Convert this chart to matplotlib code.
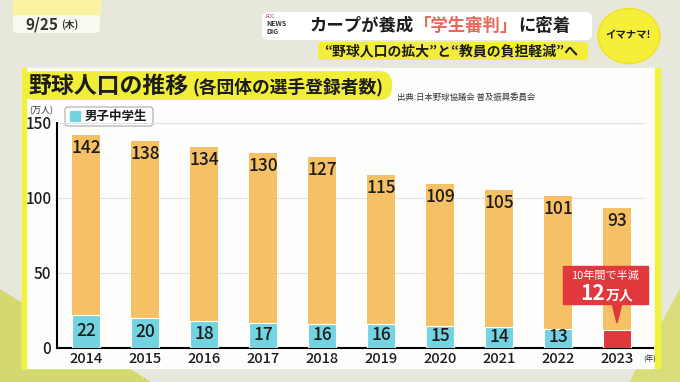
import numpy as np
import matplotlib
matplotlib.use('Agg')
import matplotlib.pyplot as plt
from matplotlib.patches import FancyBboxPatch, Rectangle, Polygon, Ellipse

plt.rcParams['font.family'] = ['Noto Sans CJK JP', 'DejaVu Sans']

# data (万人)
years = ['2014', '2015', '2016', '2017', '2018', '2019', '2020', '2021', '2022', '2023']
totals = [142, 138, 134, 130, 127, 115, 109, 105, 101, 93]
junior_high = [22, 20, 18, 17, 16, 16, 15, 14, 13, 12]
yticks = [0, 50, 100, 150]

ORANGE = '#F5C164'
CYAN = '#74D3E1'
RED = '#E0383C'
TXT = '#1c1c1c'

W, H = 680, 382
fig = plt.figure(figsize=(W / 100, H / 100), dpi=100)

# background layer in pixel coordinates
bg = fig.add_axes([0, 0, 1, 1], zorder=0)
bg.set_xlim(0, W)
bg.set_ylim(H, 0)
bg.axis('off')
bg.add_patch(Rectangle((0, 0), W, H, color='#E8E7DC'))
bg.add_patch(Polygon([(0, 290), (150, 382), (0, 382)], color='#D3D96E'))
bg.add_patch(Polygon([(630, 382), (680, 290), (680, 382)], color='#D8DD7A'))

# date box
bg.add_patch(FancyBboxPatch((13, -10), 87, 43, boxstyle='round,pad=0,rounding_size=5',
                            fc='#FBFAF0', ec='none'))
bg.add_patch(Rectangle((13, -10), 87, 24, color='#FBF3A0'))
bg.text(25, 24, '9/25', fontsize=11, fontweight='bold', color='#333333', va='center')
bg.text(61, 25, '(木)', fontsize=7, fontweight='bold', color='#333333', va='center')

# header banners
bg.add_patch(FancyBboxPatch((262, 12), 330, 28, boxstyle='round,pad=0,rounding_size=6',
                            fc='white', ec='none'))
bg.text(266, 16, 'RCC', fontsize=3.5, color='#b0306a', va='center')
bg.text(266, 23, 'NEWS', fontsize=5, fontweight='bold', color='#333333', va='center')
bg.text(266, 31, 'DIG', fontsize=5, fontweight='bold', color='#333333', va='center')
renderer = fig.canvas.get_renderer()
xpos = 310
for part, col in [('カープが養成', TXT), ('「学生審判」', '#E8675A'), ('に密着', TXT)]:
    t = bg.text(xpos, 26, part, fontsize=12.5, fontweight='bold', color=col, va='center')
    ext = t.get_window_extent(renderer)
    xpos += ext.width
bg.add_patch(FancyBboxPatch((318, 42), 270, 18, boxstyle='round,pad=0,rounding_size=4',
                            fc='#F3EE3C', ec='none'))
bg.text(578, 51, '“野球人口の拡大”と“教員の負担軽減”へ', fontsize=10, fontweight='bold',
        color=TXT, va='center', ha='right')
bg.add_patch(Ellipse((629, 36), 62, 55, fc='#F6EF3A', ec='#F2E020', lw=1))
bg.text(628, 35, 'イマナマ!', fontsize=7.5, fontweight='bold', color=TXT, ha='center', va='center')

# white panel
bg.add_patch(Rectangle((22, 68), 636, 300, color='#FDFDFB'))
bg.add_patch(Rectangle((22, 68), 4, 300, color='#F2F23C'))
bg.add_patch(Rectangle((655, 68), 5, 300, color='#F2F23C'))

# title
bg.add_patch(FancyBboxPatch((22, 71), 370, 29, boxstyle='round,pad=0,rounding_size=13',
                            fc='#F1EE3A', ec='none'))
bg.text(28, 86, '野球人口の推移', fontsize=16.5, fontweight='bold', color=TXT, va='center')
bg.text(192, 87, '(各団体の選手登録者数)', fontsize=12.8, fontweight='bold', color=TXT, va='center')
bg.text(397, 97, '出典:日本野球協議会 普及振興委員会', fontsize=6, color='#333333', va='center')
bg.text(41, 111, '(万人)', fontsize=6.5, color='#333333', ha='center', va='center')

# legend
bg.add_patch(FancyBboxPatch((65, 107), 88, 19, boxstyle='round,pad=0,rounding_size=3',
                            fc='white', ec='#aaaaaa', lw=0.8))
bg.add_patch(Rectangle((70, 111), 10, 10, color=CYAN))
bg.text(85, 116, '男子中学生', fontsize=9, fontweight='bold', color=TXT, va='center')

# main chart
ax = fig.add_axes([57 / W, 1 - 348 / H, (645 - 57) / W, (348 - 123) / H], zorder=1)
ax.patch.set_alpha(0)
x = np.arange(len(years))
bar_w = 0.48
ax.bar(x, totals, width=bar_w, color=ORANGE, zorder=2)
colors = [CYAN] * (len(years) - 1) + [RED]
ax.bar(x, junior_high, width=bar_w, color=colors, edgecolor='white', linewidth=0.8, zorder=3)

for xi, t, j in zip(x, totals, junior_high):
    ax.text(xi, t - 2.5, str(t), ha='center', va='top', fontsize=12.5, fontweight='medium',
            color=TXT, zorder=4)
    if xi < len(years) - 1:
        ax.text(xi, j / 2 + 0.5, str(j), ha='center', va='center', fontsize=12.5,
                fontweight='medium', color=TXT, zorder=4)

ax.set_xlim(-0.49, 9.47)
ax.set_ylim(0, 150)
ax.set_yticks(yticks)
ax.set_yticklabels([str(v) for v in yticks], fontsize=11, fontweight='medium', color=TXT)
ax.set_xticks(x)
ax.set_xticklabels(years, fontsize=10.5, fontweight='medium', color=TXT)
ax.tick_params(axis='both', length=0, pad=3)
ax.tick_params(axis='y', pad=4)
for v in yticks[1:]:
    ax.axhline(v, color='#e2e2e2', lw=0.8, zorder=1)
for s in ['top', 'right']:
    ax.spines[s].set_visible(False)
ax.spines['left'].set_linewidth(1.5)
ax.spines['bottom'].set_linewidth(1.5)
ax.spines['bottom'].set_bounds(-0.49, 9.6)

# callout
bg2 = fig.add_axes([0, 0, 1, 1], zorder=2)
bg2.set_xlim(0, W)
bg2.set_ylim(H, 0)
bg2.axis('off')
bg2.patch.set_alpha(0)
bg2.text(643, 360, '(年)', fontsize=5.5, color='#333333', va='center')
bg2.add_patch(Rectangle((563, 266), 85, 38, color=RED))
bg2.add_patch(Polygon([(612, 303), (622, 303), (617, 323)], color=RED))
bg2.text(605.5, 276, '10年間で半減', fontsize=8, color='white', ha='center', va='center')
bg2.text(605.5, 293, '12', fontsize=15, fontweight='bold', color='white', ha='right', va='center')
bg2.text(606, 295, '万人', fontsize=10, fontweight='bold', color='white', ha='left', va='center')

fig.savefig('out.png', dpi=100)
